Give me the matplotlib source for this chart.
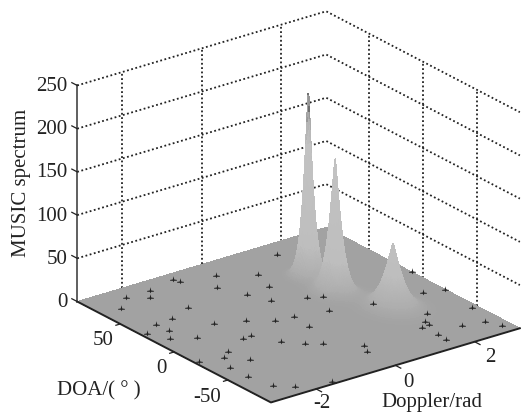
import matplotlib
matplotlib.use("Agg")
import matplotlib.pyplot as plt
import numpy as np
from matplotlib.colors import LinearSegmentedColormap
from matplotlib.path import Path
from mpl_toolkits.mplot3d import proj3d

plt.rcParams['font.family'] = ['Liberation Serif', 'DejaVu Serif']

doppler_ticks = [-2, 0, 2]
doa_ticks = [50, 0, -50]
music_ticks = [0, 50, 100, 150, 200, 250]

# the three peaks
peak_doppler = [1.28, 1.25, 1.72]
peak_doa = [38, 12, -24.5]
peak_height = [225, 160, 76]
peak_width_doppler = [0.115, 0.15, 0.23]
peak_width_doa = [4.2, 5.5, 8.2]

# small spurs on the floor
spur_doppler = [1.49, 0.57, -0.14, -0.95, -0.90, -1.66, -0.49, 0.37, -2.26, -1.88,
                -0.23, -0.03, -2.68, -1.57, -2.17, -1.04, -0.58, -0.15, -2.61, -1.65,
                -2.59, -3.04, -2.36, -2.82, -1.43, -1.65, -1.13, -2.29, -2.54, -2.18,
                -3.06, -2.75, -2.74, -2.62, -2.29, 0.65, 0.94, 1.52, 0.60, -0.22,
                -0.81, -0.52, 0.08, -0.06, 3.11, 2.66, 3.10, 2.96, 2.08, 1.80,
                1.77, 1.57, 2.27, 2.77, 2.92, 1.61, 1.58, -1.54]
spur_doa = [74.7, 58.5, 71.5, 81.5, 76.8, 76.7, 57.5, 41.1, 76.9, 68.8,
            39.5, 24.6, 66.1, 44.6, 37.5, 10.3, 0.5, -1.3, 36.1, 17.7,
            25.0, 29.0, 7.6, 15.5, -8.4, -9.1, -25.3, -18.8, -24.2, -35.3,
            -20.3, -37.6, -53.9, -72.5, -81.0, 15.9, 11.6, -13.2, -6.3, -17.7,
            -35.7, -41.7, -57.8, -65.6, 9.0, -17.6, -22.2, -52.2, -42.8, -51.1,
            -56.0, -56.9, -68.2, -71.4, -81.7, -70.3, -78.7, -87.9]

x = np.linspace(-np.pi, np.pi, 401)
y = np.linspace(-90, 90, 401)
X, Y = np.meshgrid(x, y)
Z = np.zeros_like(X)
# surface built from the peak values above, pointed tops and a flat floor
for i in range(len(peak_height)):
    r2 = ((X - peak_doppler[i]) / peak_width_doppler[i]) ** 2 + ((Y - peak_doa[i]) / peak_width_doa[i]) ** 2
    Z = Z + peak_height[i] * np.exp(-r2 ** 0.6)

greys = LinearSegmentedColormap.from_list('music', [(0.0, '#a2a2a2'), (0.04, '#aeaeae'), (0.16, '#bebebe'),
                                                    (0.6, '#c2c2c2'), (0.72, '#b0b0b0'), (0.8, '#989898'),
                                                    (0.86, '#6e6e6e'), (1.0, '#606060')])

# spike with a short bar, the look of the floor spurs
spur_marker = Path([(0, 1), (0.22, 0), (1, -0.12), (1, -0.38), (0.22, -0.38), (0, -0.85), (-0.22, -0.38),
                    (-1, -0.38), (-1, -0.12), (-0.22, 0), (0, 1)], closed=True)

W = 491
fig = plt.figure(figsize=(5.21, 4.14), dpi=100)
ax = fig.add_axes([46.4 / 521, -46 / 414, W / 521, W / 414], projection='3d', proj_type='ortho', computed_zorder=False)
ax.view_init(elev=23.2, azim=-127.1)
ax.set_box_aspect((312, 321, 235))
ax.set_axis_off()
ax.patch.set_alpha(0)

grid = dict(color='#222222', lw=1.3, ls=(0, (1, 1.4)))
# walls
for t in doppler_ticks:
    ax.plot([t, t], [90, 90], [0, 250], zorder=1, **grid)
for t in doa_ticks:
    ax.plot([np.pi, np.pi], [t, t], [0, 250], zorder=1, **grid)
for t in music_ticks[1:]:
    ax.plot([-np.pi, np.pi, np.pi], [90, 90, -90], [t, t, t], zorder=1, **grid)

ax.plot_surface(X, Y, Z, facecolors=greys(np.clip(Z / 250, 0, 1)), rstride=1, cstride=1,
                shade=False, antialiased=False, linewidth=0, zorder=2)

ax.plot(spur_doppler, spur_doa, np.full(len(spur_doa), 2.0), ls='none', marker=spur_marker, ms=4.8, mew=0,
        color='#222222', zorder=3)

# axis lines and ticks
ax.plot([-np.pi, -np.pi, np.pi], [90, -90, -90], [0, 0, 0], color='#222222', lw=1.4, zorder=4)
ax.plot([-np.pi, -np.pi], [90, 90], [0, 250], color='#444444', lw=1.2, zorder=4)
for t in music_ticks:
    ax.plot([-np.pi, -np.pi], [90, 95], [t, t], color='#222222', lw=0.9, zorder=4)
for t in doa_ticks:
    ax.plot([-np.pi, -np.pi - 0.11], [t, t], [0, 0], color='#222222', lw=0.9, zorder=4)
for t in doppler_ticks:
    ax.plot([t, t], [-90, -95], [0, 0], color='#222222', lw=0.9, zorder=4)

ax.set_xlim(-np.pi, np.pi)
ax.set_ylim(-90, 90)
ax.set_zlim(0, 250)


def tick_label(px, py, pz, s, dx, dy, ha):
    u, v, _ = proj3d.proj_transform(px, py, pz, ax.get_proj())
    ax.annotate(s, (u, v), xytext=(dx, dy), textcoords='offset pixels', ha=ha, va='center',
                fontsize=15, color='#222222', annotation_clip=False)


for t in music_ticks:
    tick_label(-np.pi, 90, t, str(t), -10, 0, 'right')
for t in doa_ticks:
    tick_label(-np.pi, t, 0, str(t), -7, -16, 'right')
doppler_dx = [6, 13, 16]
doppler_dy = [-14, -16, -15]
for t, dx, dy in zip(doppler_ticks, doppler_dx, doppler_dy):
    tick_label(t, -90, 0, str(t), dx, dy, 'center')

fig.text(22 / 521, 1 - 183 / 414, 'MUSIC spectrum', rotation=90, ha='center', va='center', fontsize=15, color='#222222')
fig.text(99 / 521, 1 - 391 / 414, 'DOA/( ° )', ha='center', va='center', fontsize=15, color='#222222')
fig.text(432 / 521, 1 - 403 / 414, 'Doppler/rad', ha='center', va='center', fontsize=15, color='#222222')

fig.savefig('out.png', dpi=100)
